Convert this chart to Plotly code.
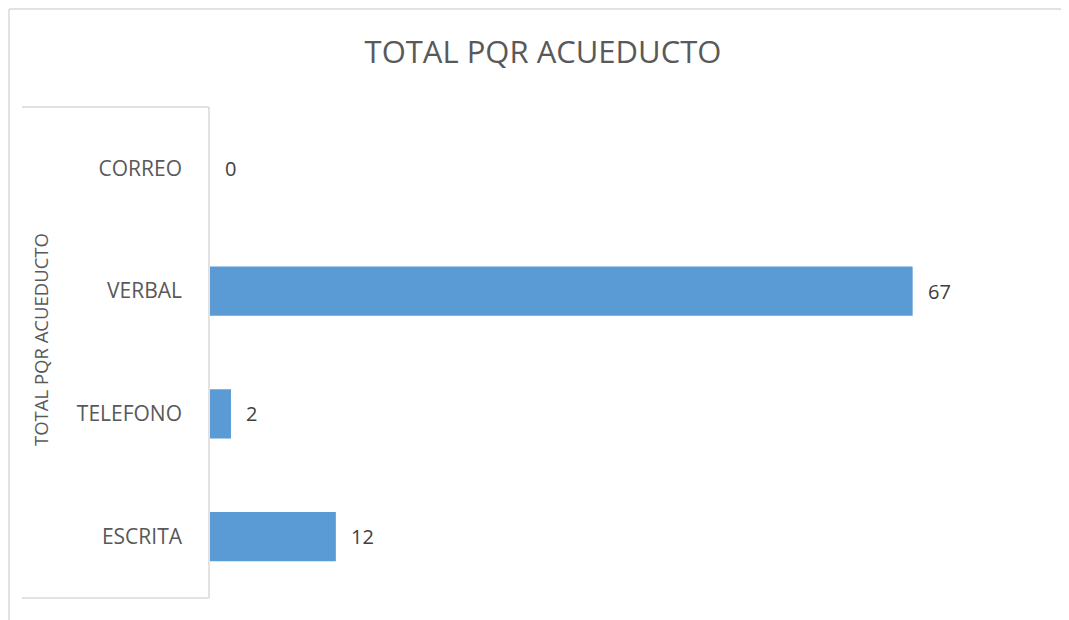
import plotly.graph_objects as go

categories = ["CORREO", "VERBAL", "TELEFONO", "ESCRITA"]
values = [0, 67, 2, 12]
title_text = "TOTAL PQR ACUEDUCTO"
group_label = "TOTAL PQR ACUEDUCTO"

FONT = "Open Sans, Liberation Sans, sans-serif"
W, H = 1069, 620
OFF = 8  # page body margin offset
# target plot area in the viewport
VX0, VX1, VY0, VY1 = 210, 1049, 107, 598
L = VX0 - OFF
T = VY0 - OFF
R = W - (VX1 - OFF)
B = H - (VY1 - OFF)
pw, ph = W - L - R, H - T - B

def px(x):
    return (x - OFF - L) / pw

def py(y):
    return (H - B - (y - OFF)) / ph

fig = go.Figure()
fig.add_trace(go.Bar(
    y=categories, x=values, orientation="h",
    marker=dict(color="#5B9BD5", line=dict(width=0)),
    width=0.4, hoverinfo="skip",
))

for c, v in zip(categories, values):
    fig.add_annotation(x=v, y=c, xref="x", yref="y", text=str(v),
                       showarrow=False, xanchor="left", xshift=13,
                       font=dict(family=FONT, size=20, color="#404040"))

line_col = "#D9D9D9"
shapes = [
    dict(type="line", xref="paper", yref="paper", x0=px(9), x1=px(W + 20), y0=py(9), y1=py(9),
         line=dict(color=line_col, width=1.5)),
    dict(type="line", xref="paper", yref="paper", x0=px(9), x1=px(9), y0=py(9), y1=py(H + 20),
         line=dict(color=line_col, width=1.5)),
    dict(type="line", xref="paper", yref="paper", x0=px(22), x1=px(209), y0=py(107), y1=py(107),
         line=dict(color=line_col, width=1.5)),
    dict(type="line", xref="paper", yref="paper", x0=px(22), x1=px(209), y0=py(598), y1=py(598),
         line=dict(color=line_col, width=1.5)),
    dict(type="line", xref="paper", yref="paper", x0=px(209), x1=px(209), y0=py(107), y1=py(598),
         line=dict(color=line_col, width=1.5)),
]

fig.add_annotation(x=px(40), y=py(340), xref="paper", yref="paper", text=group_label,
                   textangle=-90, showarrow=False, xanchor="center", yanchor="middle",
                   font=dict(family=FONT, size=18.5, color="#595959"))

fig.update_layout(
    width=W, height=H,
    margin=dict(l=L, r=R, t=T, b=B, pad=0),
    paper_bgcolor="white", plot_bgcolor="white",
    shapes=shapes,
    showlegend=False,
    bargap=0.6,
    title=dict(text=title_text, x=(543 - OFF) / W, xref="container", xanchor="center",
               y=1 - (52 - OFF) / H, yref="container", yanchor="middle",
               font=dict(family=FONT, size=31, color="#595959")),
    xaxis=dict(range=[0, 80], visible=False, showgrid=False, zeroline=False, fixedrange=True),
    yaxis=dict(categoryorder="array", categoryarray=categories, autorange="reversed",
               showgrid=False, zeroline=False, showline=False, ticks="", ticklen=0,
               ticklabelstandoff=27,
               tickfont=dict(family=FONT, size=21, color="#595959")),
)

fig.write_html("out.html")
